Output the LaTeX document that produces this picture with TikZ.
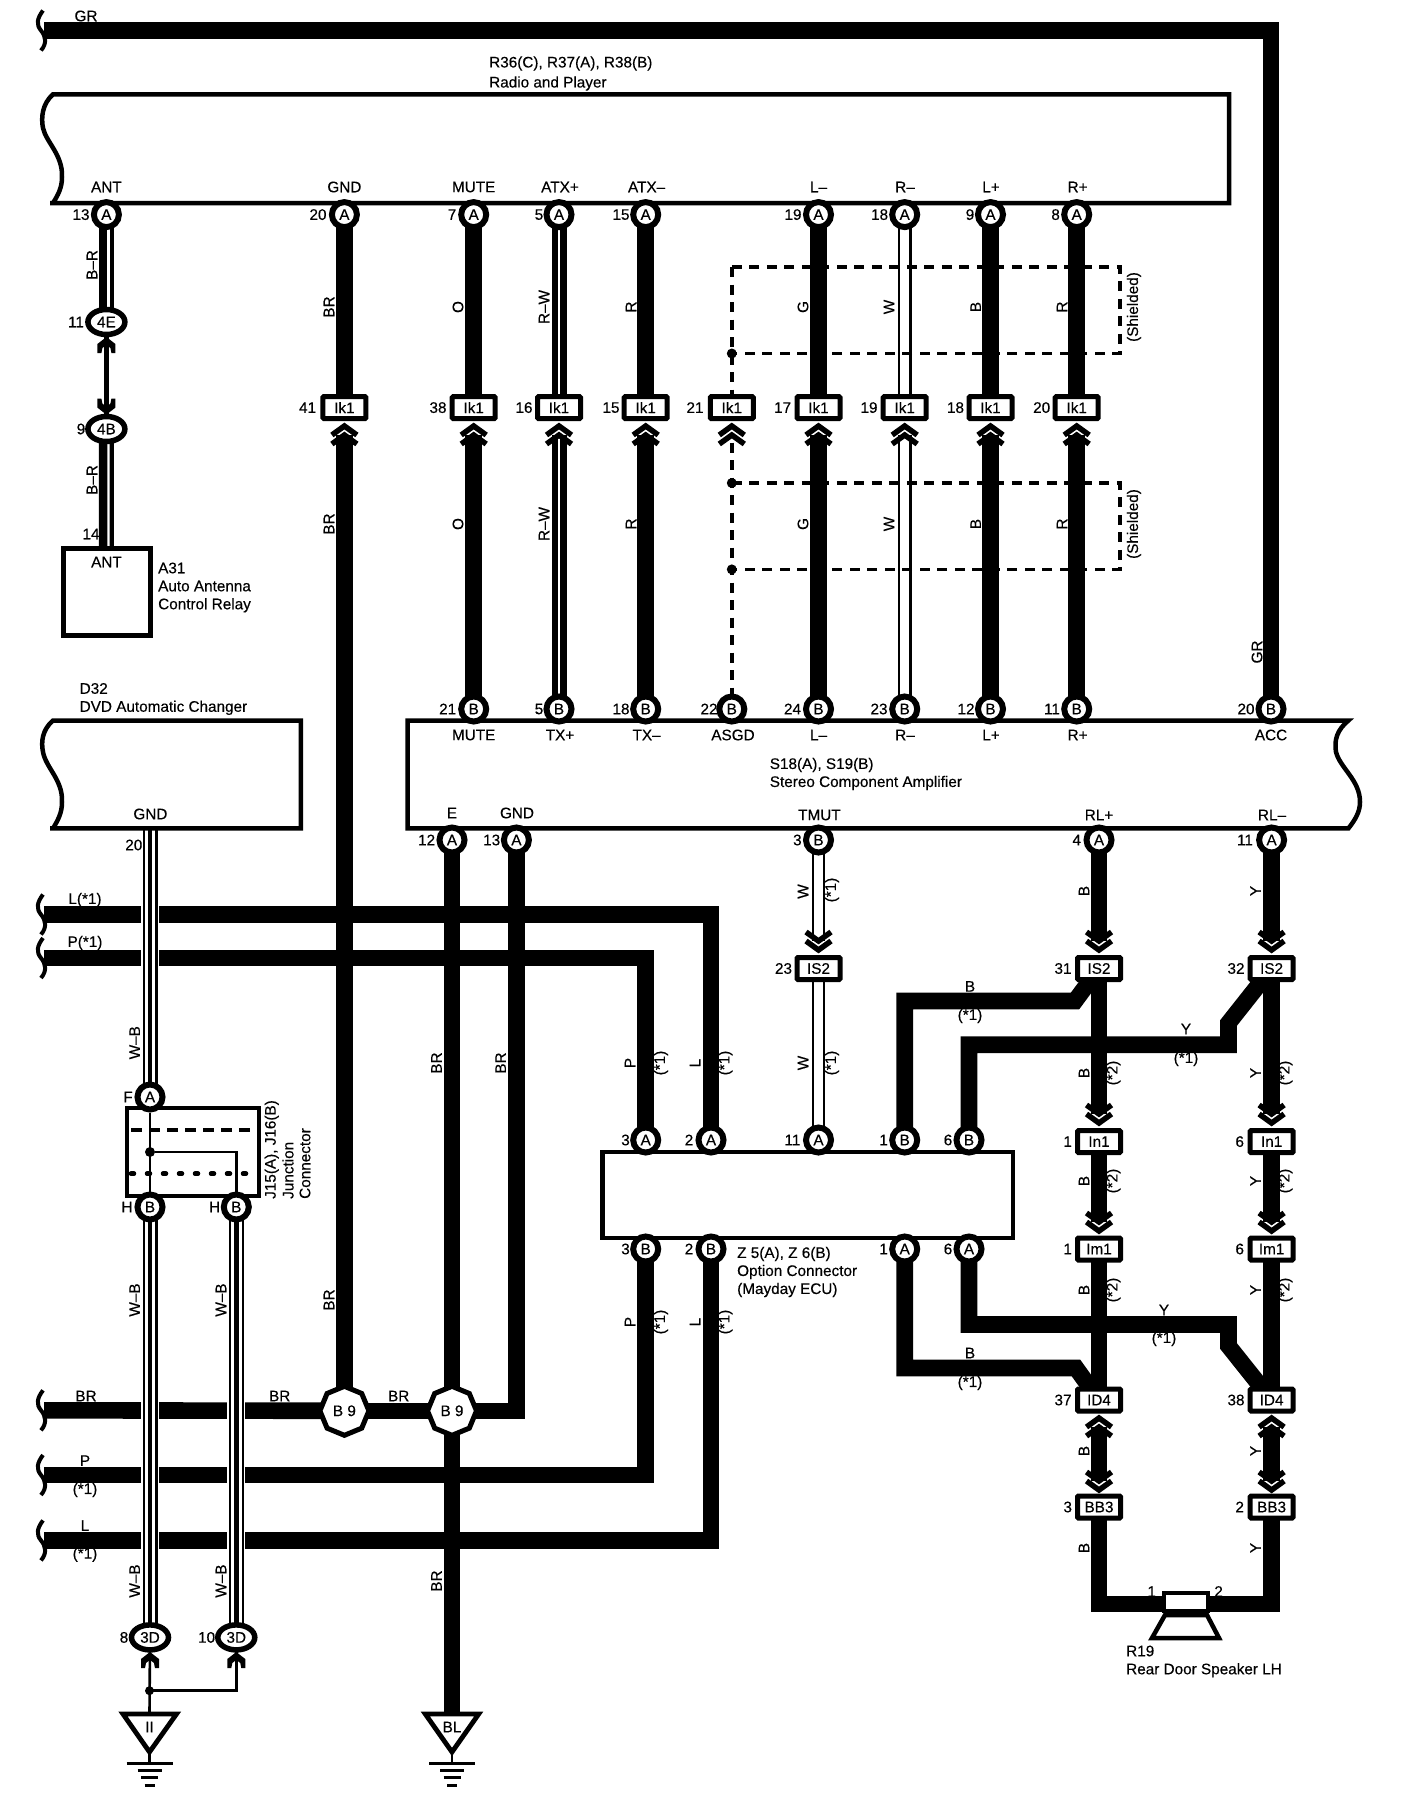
\documentclass[tikz,border=0pt]{standalone}
\usepackage{fontspec}
\setmainfont{Liberation Sans}[FakeBold=0.3]
\usetikzlibrary{shapes.geometric,calc}
\pgfdeclarelayer{wires}\pgfdeclarelayer{marks}
\pgfsetlayers{wires,marks,main}
\newcounter{lbc}
\tikzset{
 txt/.style={inner sep=0pt,font=\fontsize{15.3}{18}\selectfont},
 wthick/.style={line width=16.6pt,black},
 wrw/.style={line width=6.25pt,double=white,double distance=2.5pt},
 wwhite/.style={line width=2.2pt,double=white,double distance=9.5pt},
 wbr/.style={line width=15pt,postaction={draw=white,line width=2.2pt,transform canvas={xshift=2pt}}},
 wwb/.style={line width=15pt,preaction={draw=white,line width=18pt},postaction={draw=white,line width=10.5pt},postaction={draw=black,line width=4.5pt}},
 wthin/.style={line width=2.6pt},
 shield/.style={line width=3.5pt,dash pattern=on 10pt off 7.5pt},
 pinc/.style={circle,draw,fill=white,line width=6pt,minimum size=25pt,inner sep=0pt,font=\fontsize{15.3}{18}\selectfont},
 pino/.style={ellipse,draw,fill=white,line width=5.5pt,minimum width=37pt,minimum height=25pt,inner sep=0pt,font=\fontsize{15.3}{18}\selectfont},
 conb/.style={rectangle,draw,fill=white,line width=5pt,rounded corners=1pt,minimum width=43pt,minimum height=22pt,inner sep=0pt,font=\fontsize{15.3}{18}\selectfont},
 octo/.style={regular polygon,regular polygon sides=8,shape border rotate=22.5,draw,fill=white,line width=5pt,minimum size=49pt,inner sep=0pt,font=\fontsize{15.3}{18}\selectfont},
 bxs/.style={draw,fill=white,line width=4.5pt},
 dotn/.style={circle,fill=black,inner sep=0pt,minimum size=10pt},
 chv/.style={line width=5.5pt,miter limit=10},
}
\newcommand{\lb}[3]{\stepcounter{lbc}\node[txt] (lb\thelbc) at (#1,#2) {#3};}
\newcommand{\vb}[3]{\stepcounter{lbc}\node[txt,rotate=90] (lb\thelbc) at (#1,#2) {#3};}
\newcommand{\wl}[3]{\stepcounter{lbc}\node[txt,anchor=west,align=left] (lb\thelbc) at (#1,#2) {#3};}
\newcommand{\wpin}[6]{\node[pinc] (#1) at (#2,#3) {#4};\node[txt] (#1n) at (#6,#3) {#5};}
\newcommand{\wbox}[6]{\node[conb] (#1) at (#2,#3) {#4};\node[txt] (#1n) at (#6,#3) {#5};}
\newcommand{\wov}[6]{\node[pino] (#1) at (#2,#3) {#4};\node[txt] (#1n) at (#6,#3) {#5};}
\newcommand{\chev}[3]{\fill[white] (#1-15,#2-2*#3) rectangle (#1+15,#2+12*#3);
 \draw[chv] (#1-12.5,#2+12*#3) -- (#1,#2+3*#3) -- (#1+12.5,#2+12*#3);
 \draw[chv] (#1-12.5,#2+21*#3) -- (#1,#2+12*#3) -- (#1+12.5,#2+21*#3);}
\newcommand{\tulip}[3]{\fill (#1,#2) -- (#1+9,#2+7*#3) -- (#1+9,#2+16*#3) -- (#1+5,#2+16*#3) -- (#1+4,#2+11*#3) -- (#1+1.5,#2+9*#3) -- (#1-1.5,#2+9*#3) -- (#1-4,#2+11*#3) -- (#1-5,#2+16*#3) -- (#1-9,#2+16*#3) -- (#1-9,#2+7*#3) -- cycle;}
\newcommand{\squig}[1]{\draw[line width=4pt] (43,#1-20) .. controls (37,#1-12) and (36,#1-6) .. (41,#1) .. controls (46,#1+6) and (47,#1+13) .. (41,#1+20);}
\newcommand{\gnd}[1]{\draw[line width=3pt] (#1-23,1763.3) -- (#1+23,1763.3) (#1-12,1770.3) -- (#1+12,1770.3) (#1-8.5,1777.4) -- (#1+8.5,1777.4) (#1-5,1785) -- (#1+5,1785);
 \draw[line width=2.6pt] (#1,1752) -- (#1,1763.3);}
\begin{document}
\begin{tikzpicture}[x=1pt,y=-1pt]
\useasboundingbox (0,0) rectangle (1408,1810);
% component outlines
\draw[bxs] (53,94.3) -- (1229,94.3) -- (1229,203) -- (50,203) -- (53,203) .. controls (58,195) and (62,188) .. (62,177) .. controls (63,155) and (46,142) .. (43,128) .. controls (41,118) and (42,104) .. (53,94.3) -- cycle;
\draw[bxs] (53,720.5) -- (300.8,720.5) -- (300.8,828.4) -- (50,828.4) -- (53,828.4) .. controls (58,820) and (62,813) .. (62,802) .. controls (63,780) and (46,768) .. (43,752) .. controls (41,742) and (42,730) .. (53,720.5) -- cycle;
\draw[bxs] (1348.4,720.5) .. controls (1337,730) and (1334,740) .. (1336,752) .. controls (1340,768) and (1360,780) .. (1360,802) .. controls (1360,812) and (1355,820) .. (1348.4,828.4) -- (407.7,828.4) -- (407.7,720.5) -- cycle;
\node[rectangle,draw,fill=white,line width=4.5pt,minimum width=410.4pt,minimum height=86.2pt,inner sep=0pt] (zbox) at (807.8,1194.9) {};
\node[rectangle,draw,fill=white,line width=5pt,minimum width=87pt,minimum height=87pt,inner sep=0pt] (a31) at (106.5,591.5) {};
\node[rectangle,draw,fill=white,line width=4.5pt,minimum width=132pt,minimum height=88pt,inner sep=0pt] (jbox) at (193,1151.8) {};
% top pins
\wpin{tAnt}{106.4}{214.6}{A}{13}{81}
\wpin{tGnd}{344.4}{214.6}{A}{20}{318}
\wpin{tMute}{473.7}{214.6}{A}{7}{452}
\wpin{tAtxp}{559}{214.6}{A}{5}{539}
\wpin{tAtxm}{645.7}{214.6}{A}{15}{621}
\wpin{tLm}{818.5}{214.6}{A}{19}{793}
\wpin{tRm}{904.7}{214.6}{A}{18}{879.6}
\wpin{tLp}{990.5}{214.6}{A}{9}{970}
\wpin{tRp}{1076.7}{214.6}{A}{8}{1055.6}
% Ik1
\wbox{kGnd}{344.4}{407.6}{Ik1}{41}{307.6}
\wbox{kMute}{473.7}{407.6}{Ik1}{38}{438}
\wbox{kAtxp}{559}{407.6}{Ik1}{16}{524}
\wbox{kAtxm}{645.7}{407.6}{Ik1}{15}{611}
\wbox{kAsgd}{731.8}{407.6}{Ik1}{21}{695}
\wbox{kLm}{818.5}{407.6}{Ik1}{17}{782.6}
\wbox{kRm}{904.7}{407.6}{Ik1}{19}{869}
\wbox{kLp}{990.5}{407.6}{Ik1}{18}{955.5}
\wbox{kRp}{1076.7}{407.6}{Ik1}{20}{1041.7}
% amp top pins
\wpin{bMute}{473.7}{709}{B}{21}{447.7}
\wpin{bTxp}{559}{709}{B}{5}{539}
\wpin{bTxm}{645.7}{709}{B}{18}{621}
\wpin{bAsgd}{731.8}{709}{B}{22}{709}
\wpin{bLm}{818.5}{709}{B}{24}{792.5}
\wpin{bRm}{904.7}{709}{B}{23}{879}
\wpin{bLp}{990.5}{709}{B}{12}{966}
\wpin{bRp}{1076.7}{709}{B}{11}{1052}
\wpin{bAcc}{1271}{709}{B}{20}{1246}
% amp lower pins
\wpin{cE}{452}{840}{A}{12}{426.6}
\wpin{cGnd}{516.4}{840}{A}{13}{491.7}
\wpin{cTmut}{818.5}{840}{B}{3}{797.4}
\wpin{cRlp}{1099}{840}{A}{4}{1076.7}
\wpin{cRlm}{1271.6}{840}{A}{11}{1245}
% splice connectors right
\wbox{isT}{818.5}{968.5}{IS2}{23}{783.5}
\wbox{isA}{1099}{968.5}{IS2}{31}{1063}
\wbox{isB}{1271.6}{968.5}{IS2}{32}{1236}
\wbox{inA}{1099}{1141.6}{In1}{1}{1067.7}
\wbox{inB}{1271.6}{1141.6}{In1}{6}{1239.7}
\wbox{imA}{1099}{1249}{Im1}{1}{1067.7}
\wbox{imB}{1271.6}{1249}{Im1}{6}{1239.7}
\wbox{idA}{1099}{1400}{ID4}{37}{1063}
\wbox{idB}{1271.6}{1400}{ID4}{38}{1236}
\wbox{bbA}{1099}{1507}{BB3}{3}{1067.7}
\wbox{bbB}{1271.6}{1507}{BB3}{2}{1239.7}
% Z box pins
\wpin{zP}{645.7}{1140}{A}{3}{625.5}
\wpin{zL}{711}{1140}{A}{2}{689}
\wpin{zW}{818.5}{1140}{A}{11}{792.5}
\wpin{zB}{904.7}{1140}{B}{1}{883.6}
\wpin{zY}{969}{1140}{B}{6}{948}
\wpin{yP}{645.7}{1249}{B}{3}{625.5}
\wpin{yL}{711}{1249}{B}{2}{689}
\wpin{yB}{904.7}{1249}{A}{1}{883.6}
\wpin{yY}{969}{1249}{A}{6}{948}
% antenna ovals
\wov{o4E}{106.4}{322}{4E}{11}{76}
\wov{o4B}{106.4}{429}{4B}{9}{81}
\wov{o3Da}{150}{1637.4}{3D}{8}{124}
\wov{o3Db}{236.3}{1637.4}{3D}{10}{206.6}
% junction connector
\draw[line width=4pt,dash pattern=on 11pt off 7pt] (131,1130) -- (257,1130);
\draw[line width=4.5pt,line cap=round,dash pattern=on 3pt off 13pt] (131,1173.6) -- (257,1173.6);
\node[dotn] (jdot) at (150,1152) {};
\wpin{jF}{150}{1097}{A}{F}{128}
\wpin{jHa}{150}{1207}{B}{H}{127}
\wpin{jHb}{236.3}{1207}{B}{H}{214.6}
\draw[wthin] (jF) -- (jHa);
\draw[wthin] (jdot) -| (jHb);
% splices
\node[octo] (b9a) at (344.4,1410.8) {B 9};
\node[octo] (b9b) at (452,1410.8) {B 9};
% speaker
\draw[line width=4.5pt,fill=white] (1165,1615) -- (1207,1615) -- (1219,1638) -- (1152,1638) -- cycle;
\node[rectangle,draw,fill=white,line width=4.5pt,minimum width=44pt,minimum height=18pt,inner sep=0pt] (spk) at (1186,1602) {};
% ground symbols
\coordinate (triA) at (149.5,1714);
\coordinate (triB) at (452,1714);
\draw[line width=4.8pt,fill=white] (123,1714) -- (176.5,1714) -- (149.5,1752) -- cycle;
\draw[line width=4.8pt,fill=white] (425.3,1714) -- (478.7,1714) -- (452,1752) -- cycle;
\lb{149.5}{1727}{II}
\lb{452}{1727}{BL}
\gnd{149.5}
\gnd{452}
% shield junction dots
\node[dotn] (sd1) at (731.8,353.5) {};
\node[dotn] (sd2) at (731.8,483) {};
\node[dotn] (sd3) at (731.8,569.4) {};
\node[dotn,minimum size=9pt] (tdot) at (149.5,1690.7) {};
% free ends
\coordinate (grL) at (44,30.5);
\coordinate (lL) at (44,914.5);
\coordinate (pL) at (44,958);
\coordinate (brL) at (44,1410.3);
\coordinate (plo) at (44,1475);
\coordinate (llo) at (44,1540.4);
\coordinate (d32g) at (150,830);
\coordinate (bbB1) at (1075,1001);
\coordinate (yy1) at (1228.5,1044.7);
\coordinate (yy2) at (1228.5,1023);
\coordinate (bbB2) at (1076,1368);
\coordinate (yy3) at (1228.5,1324.5);
\coordinate (yy4) at (1228.5,1346);
\coordinate (spL) at (1186,1604);
\coordinate (s1) at (731.8,267);
\coordinate (s2) at (1120,267);
\coordinate (s3) at (1120,353.5);
\coordinate (s4) at (1120,483);
\coordinate (s5) at (1120,569.4);
% labels
\lb{86}{16}{GR}
\wl{489}{73.5}{R36(C), R37(A), R38(B)\\[2pt]Radio and Player}
\lb{106.4}{187}{ANT}\lb{344.4}{187}{GND}\lb{473.7}{187}{MUTE}\lb{560}{187}{ATX+}\lb{646.6}{187}{ATX–}
\lb{818.5}{187}{L–}\lb{905}{187}{R–}\lb{991}{187}{L+}\lb{1077.6}{187}{R+}
\vb{92}{265}{B–R}\vb{92}{480}{B–R}
\lb{91}{534}{14}\lb{106.5}{562}{ANT}
\wl{158}{587.5}{A31\\Auto Antenna\\Control Relay}
\foreach \yy in {307,524}{
 \vb{329}{\yy}{BR}\vb{458}{\yy}{O}\vb{544}{\yy}{R–W}\vb{631}{\yy}{R}
 \vb{803}{\yy}{G}\vb{889}{\yy}{W}\vb{975.7}{\yy}{B}\vb{1062}{\yy}{R}\vb{1134}{\yy}{(Shielded)}}
\vb{1257}{652}{GR}
\wl{79.5}{699}{D32\\DVD Automatic Changer}
\lb{150.4}{814}{GND}\lb{133.8}{845}{20}
\lb{473.7}{735}{MUTE}\lb{560}{735}{TX+}\lb{646.6}{735}{TX–}\lb{733}{735}{ASGD}\lb{818.5}{735}{L–}\lb{905}{735}{R–}\lb{991}{735}{L+}\lb{1077.6}{735}{R+}\lb{1271}{735}{ACC}
\wl{769.6}{774}{S18(A), S19(B)\\Stereo Component Amplifier}
\lb{452}{813}{E}\lb{517}{813}{GND}\lb{819.4}{815}{TMUT}\lb{1099}{815}{RL+}\lb{1272}{815}{RL–}
\lb{85}{900}{L(*1)}\lb{85}{943}{P(*1)}
\vb{134.7}{1042.7}{W–B}\vb{134.7}{1300}{W–B}\vb{221}{1300}{W–B}\vb{134.7}{1581}{W–B}\vb{221}{1581}{W–B}
\vb{436.5}{1063}{BR}\vb{500.7}{1063}{BR}\vb{329}{1300}{BR}\vb{436.5}{1581}{BR}
\vb{630}{1063}{P}\vb{661}{1063}{(*1)}\vb{695}{1063}{L}\vb{725.5}{1063}{(*1)}
\vb{630}{1322}{P}\vb{661}{1322}{(*1)}\vb{695}{1322}{L}\vb{725.5}{1322}{(*1)}
\vb{803}{891.5}{W}\vb{832}{890}{(*1)}\vb{803}{1063}{W}\vb{832}{1063}{(*1)}
\vb{1084}{891}{B}\vb{1255.5}{891}{Y}
\vb{1084}{1073}{B}\vb{1113.5}{1073}{(*2)}\vb{1255.5}{1073}{Y}\vb{1285.5}{1073}{(*2)}
\vb{1084}{1181}{B}\vb{1113.5}{1181}{(*2)}\vb{1255.5}{1181}{Y}\vb{1285.5}{1181}{(*2)}
\vb{1084}{1290}{B}\vb{1113.5}{1290}{(*2)}\vb{1255.5}{1290}{Y}\vb{1285.5}{1290}{(*2)}
\vb{1084}{1451}{B}\vb{1255.5}{1451}{Y}\vb{1084}{1548}{B}\vb{1255.5}{1548}{Y}
\lb{970}{986.4}{B}\lb{970}{1016}{(*1)}\lb{1186}{1029}{Y}\lb{1186}{1059}{(*1)}
\lb{1164}{1310}{Y}\lb{1164}{1339}{(*1)}\lb{970}{1353}{B}\lb{970}{1383}{(*1)}
\wl{737}{1272}{Z 5(A), Z 6(B)\\Option Connector\\(Mayday ECU)}
\lb{86}{1396}{BR}\lb{279.7}{1396}{BR}\lb{398.7}{1396}{BR}
\lb{85}{1460.6}{P}\lb{85}{1490}{(*1)}\lb{85}{1525.5}{L}\lb{85}{1554.6}{(*1)}
\lb{1151.7}{1591.5}{1}\lb{1218.6}{1591.5}{2}
\wl{1126}{1661.5}{R19\\Rear Door Speaker LH}
\node[txt,rotate=90,anchor=west] (lbj1) at (271.7,1199) {J15(A), J16(B)};
\node[txt,rotate=90,anchor=west] (lbj2) at (288,1199) {Junction};
\node[txt,rotate=90,anchor=west] (lbj3) at (305,1199) {Connector};
% wires
\begin{pgfonlayer}{wires}
\fill[white] (0,0) rectangle (1408,1810);
\draw[wthick] (grL) -| (bAcc.center);
\draw[wthick] (tGnd.center) -- (kGnd.center);\draw[wthick] (kGnd.center) -- (b9a.center);
\draw[wthick] (tMute.center) -- (kMute.center);\draw[wthick] (kMute.center) -- (bMute.center);
\draw[wrw] (tAtxp.center) -- (kAtxp.center);\draw[wrw] (kAtxp.center) -- (bTxp.center);
\draw[wthick] (tAtxm.center) -- (kAtxm.center);\draw[wthick] (kAtxm.center) -- (bTxm.center);
\draw[wthick] (tLm.center) -- (kLm.center);\draw[wthick] (kLm.center) -- (bLm.center);
\draw[wwhite] (tRm.center) -- (kRm.center);\draw[wwhite] (kRm.center) -- (bRm.center);
\draw[wthick] (tLp.center) -- (kLp.center);\draw[wthick] (kLp.center) -- (bLp.center);
\draw[wthick] (tRp.center) -- (kRp.center);\draw[wthick] (kRp.center) -- (bRp.center);
\draw[wbr] (tAnt.center) -- (o4E.center);
\draw[line width=4.5pt] (o4E.center) -- (o4B.center);
\draw[wbr] (o4B.center) -- (a31.center);
\draw[wthick] (lL) -| (zL.center);
\draw[wthick] (pL) -| (zP.center);
\draw[wthick] (cE.center) -- (b9b.center);
\draw[wthick] (cGnd.center) |- (b9b.center);
\draw[wthick] (brL) -- (b9a.center);\draw[wthick] (b9a.center) -- (b9b.center);
\draw[wthick] (b9b.center) -- (triB);
\draw[wthick] (plo) -| (yP.center);
\draw[wthick] (llo) -| (yL.center);
\draw[wwb] (d32g) -- (jF.center);
\draw[wwb] (jHa.center) -- (o3Da.center);
\draw[wwb] (jHb.center) -- (o3Db.center);
\draw[wthin] (o3Da.center) -- (triA);
\draw[wthin] (tdot.center) -| (o3Db.center);
\draw[wwhite] (cTmut.center) -- (isT.center);\draw[wwhite] (isT.center) -- (zW.center);
\draw[wthick] (cRlp.center) -- (isA.center);\draw[wthick] (isA.center) -- (inA.center);\draw[wthick] (inA.center) -- (imA.center);\draw[wthick] (imA.center) -- (idA.center);\draw[wthick] (idA.center) -- (bbA.center);
\draw[wthick] (cRlm.center) -- (isB.center);\draw[wthick] (isB.center) -- (inB.center);\draw[wthick] (inB.center) -- (imB.center);\draw[wthick] (imB.center) -- (idB.center);\draw[wthick] (idB.center) -- (bbB.center);
\draw[wthick] (zB.center) |- (bbB1) -- (isA.center);
\draw[wthick] (zY.center) |- (yy1) -- (yy2) -- (isB.center);
\draw[wthick] (yB.center) |- (bbB2) -- (idA.center);
\draw[wthick] (yY.center) |- (yy3) -- (yy4) -- (idB.center);
\draw[wthick] (bbA.center) |- (spL) -| (bbB.center);
\draw[shield] (s1) -- (s2) -- (s3) -- (sd1.center);
\draw[shield] (sd2.center) -- (s4) -- (s5) -- (sd3.center);
\draw[shield] (s1) -- (kAsgd.center);
\draw[shield] (kAsgd.center) -- (bAsgd.center);
\end{pgfonlayer}
% chevrons and wire ends
\begin{pgfonlayer}{marks}
\squig{30.5}\squig{914.5}\squig{958}\squig{1410.3}\squig{1475}\squig{1540.4}
\foreach \xx in {344.4,473.7,559,645.7,731.8,818.5,904.7,990.5,1076.7}{\chev{\xx}{423}{1}}
\foreach \xx in {818.5,1099,1271.6}{\chev{\xx}{953}{-1}}
\foreach \xx in {1099,1271.6}{\chev{\xx}{1126}{-1}\chev{\xx}{1234}{-1}\chev{\xx}{1415}{1}\chev{\xx}{1493}{-1}}
\tulip{106.4}{337}{1}\tulip{106.4}{414.6}{-1}
\tulip{150}{1652}{1}\tulip{236.3}{1652}{1}
\end{pgfonlayer}
\end{tikzpicture}
\end{document}
